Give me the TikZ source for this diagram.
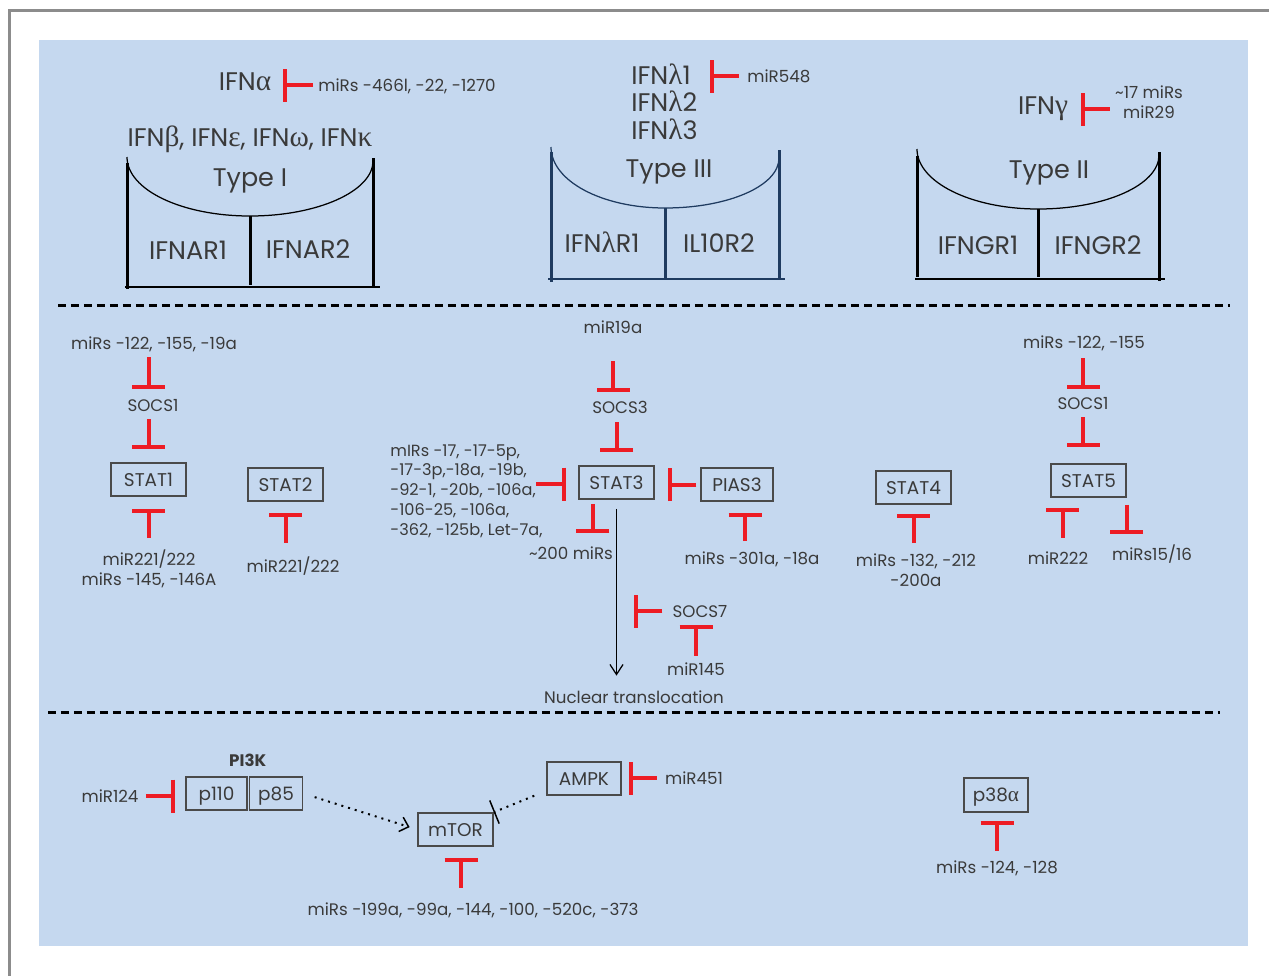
\documentclass[tikz,border=0pt]{standalone}
\usepackage{fontspec}
\setmainfont{Poppins}
\newfontfamily\greekfont{Liberation Serif}[Scale=1.15]
\newcommand{\grk}[1]{{\greekfont #1}}
\usetikzlibrary{positioning, arrows.meta, calc}

\begin{document}
\begin{tikzpicture}[
    x=0.02cm, y=-0.02cm,
    lbl/.style={
        font=\fontsize{9.5}{11.3}\selectfont,
        text=txt_color,
        inner sep=0pt,
        text height=7.5pt,
        text depth=0.5pt
    },
    lines/.style={
        font=\fontsize{9.5}{11.6}\selectfont,
        text=txt_color,
        inner sep=0pt,
        align=center
    },
    biglbl/.style={
        font=\fontsize{14.5}{17}\selectfont,
        text=txt_color,
        inner sep=0pt,
        text height=11.5pt,
        text depth=1pt
    },
    box/.style={
        rectangle,
        draw=box_color,
        line width=0.03cm,
        minimum width=#1,
        minimum height=0.66cm,
        inner sep=0pt,
        text height=7.6pt,
        text depth=0pt,
        font=\fontsize{10.5}{12}\selectfont,
        text=txt_color
    },
    box/.default=1.5cm,
    inhib/.style={
        draw=red_color,
        line width=0.08cm,
        -{Bar[width=0.66cm]}
    },
    rec/.style={
        draw=#1,
        line width=0.06cm
    },
    arcline/.style={
        draw=#1,
        line width=0.025cm
    },
    divider/.style={
        draw=black,
        line width=0.06cm,
        dash pattern=on 0.16cm off 0.1cm
    },
    arrow/.style={
        draw=black,
        line width=0.025cm,
        -{Straight Barb[length=0.2cm, width=0.26cm]}
    },
    dotarrow/.style={
        draw=black,
        line width=0.04cm,
        dash pattern=on 0.04cm off 0.1cm,
        -{Straight Barb[length=0.16cm, width=0.3cm, line width=0.03cm]}
    },
    dotbar/.style={
        draw=black,
        line width=0.04cm,
        dash pattern=on 0.04cm off 0.1cm,
        -{Bar[width=0.5cm, line width=0.03cm]}
    }
]

% Colors
\definecolor{panel_color}{HTML}{C5D8EF}
\definecolor{red_color}{HTML}{ED1C24}
\definecolor{txt_color}{HTML}{3A3A3A}
\definecolor{box_color}{HTML}{4A4A4A}
\definecolor{navy_color}{HTML}{1F3B60}
\definecolor{frame_color}{HTML}{8C8C8C}

% Frame and panel
\useasboundingbox (0,0) rectangle (1269,975);
\clip (0,0) rectangle (1269,975);
\draw[frame_color, line width=0.06cm] (9.5,1000) -- (9.5,10) -- (1300,10);
\fill[panel_color] (39,40) rectangle (1248,946);

% Dividers
\draw[divider] (58,305) -- (1230,305);
\draw[divider] (48,712) -- (1220,712);

% Type I receptor
\draw[rec=black] (127,163) -- (127,289);
\draw[rec=black] (373,158) -- (373,287);
\draw[rec=black, line width=0.04cm] (125,287) -- (380,287);
\draw[rec=black] (250,216) -- (250,285);
\draw[arcline=black] (127,157) .. controls (127,190) and (182,216) .. (250,216)
    .. controls (318,216) and (373,191) .. (373,161);
\node[biglbl] (ifnbeta) at (250,137) {IFN\grk{β}, IFN\grk{ε}, IFN\grk{ω}, IFN\grk{κ}};
\node[biglbl] (type1) at (250,177) {Type I};
\node[biglbl] (ifnar1) at (188,250) {IFNAR1};
\node[biglbl] (ifnar2) at (308,249) {IFNAR2};
\node[biglbl] (ifna) at (245,81) {IFN\grk{α}};
\node[lbl, anchor=west] (mirifna) at (318,85) {miRs -466l, -22, -1270};
\draw[inhib, shorten <=0.1cm, shorten >=0.22cm] (mirifna.west) -- (mirifna.west -| ifna.east);

% Type III receptor
\draw[rec=navy_color] (551,152) -- (551,282);
\draw[rec=navy_color] (779,150) -- (779,280);
\draw[rec=navy_color, line width=0.04cm] (548,279) -- (785,279);
\draw[rec=navy_color] (665,208) -- (665,278);
\draw[arcline=navy_color] (551,147) .. controls (551,181) and (602,208) .. (665,208)
    .. controls (728,208) and (779,186) .. (779,158);
\node[biglbl, anchor=west] (ifnl1) at (631,75) {IFN\grk{λ}1};
\node[biglbl, anchor=west] (ifnl2) at (631,102) {IFN\grk{λ}2};
\node[biglbl, anchor=west] (ifnl3) at (631,130) {IFN\grk{λ}3};
\node[lbl, anchor=west] (mir548) at (747,76) {miR548};
\draw[inhib, shorten <=0.16cm, shorten >=0.38cm] (mir548.west) -- (mir548.west -| ifnl1.east);
\node[biglbl] (type3) at (669,168) {Type III};
\node[biglbl] (ifnlr1) at (602,243) {IFN\grk{λ}R1};
\node[biglbl] (il10r2) at (719,243) {IL10R2};

% Type II receptor
\draw[rec=black] (917,156) -- (917,277);
\draw[rec=black] (1159,152) -- (1159,281);
\draw[rec=black, line width=0.04cm] (915,279) -- (1165,279);
\draw[rec=black] (1038,209) -- (1038,277);
\draw[arcline=black] (917,149) .. controls (917,182) and (971,209) .. (1038,209)
    .. controls (1105,209) and (1159,185) .. (1159,155);
\node[biglbl] (ifng) at (1043,105) {IFN\grk{γ}};
\node[lines, font=\fontsize{9.5}{11.3}\selectfont] (mirifng) at (1149,102) {\textasciitilde17 miRs\\miR29};
\coordinate (ifngin) at ($(mirifng.west)+(0,7)$);
\draw[inhib, shorten <=0.1cm, shorten >=0.26cm] (ifngin) -- (ifngin -| ifng.east);
\node[biglbl] (type2) at (1049,169) {Type II};
\node[biglbl] (ifngr1) at (978,245) {IFNGR1};
\node[biglbl] (ifngr2) at (1098,245) {IFNGR2};

% STAT1 and STAT2
\node[lbl] (mirsocs1a) at (154,343) {miRs -122, -155, -19a};
\node[lbl] (socs1a) at (153,405) {SOCS1};
\node[box] (stat1) at (148.5,479.5) {STAT1};
\node[lines, anchor=north] (mirstat1) at (149,549) {miR221/222\\miRs -145, -146A};
\node[box] (stat2) at (285.5,484.5) {STAT2};
\node[lbl] (mirstat2) at (293,566) {miR221/222};
\draw[inhib, shorten <=0.14cm, shorten >=0.18cm] (mirsocs1a.south -| stat1.north) -- (socs1a.north -| stat1.north);
\draw[inhib, shorten <=0.14cm, shorten >=0.26cm] (socs1a.south -| stat1.north) -- (stat1.north);
\draw[inhib, shorten <=0.22cm, shorten >=0.24cm] (mirstat1.north -| stat1.south) -- (stat1.south);
\draw[inhib, shorten <=0.32cm, shorten >=0.22cm] (mirstat2.north -| stat2.south) -- (stat2.south);

% STAT3
\node[lbl] (mir19a) at (613,327) {miR19a};
\node[lbl] (socs3) at (620,407) {SOCS3};
\node[box] (stat3) at (616.5,482.5) {STAT3};
\node[box=1.44cm] (pias3) at (737,484.5) {PIAS3};
\node[lines, align=left, anchor=north west, font=\fontsize{9.2}{11.3}\selectfont] (mirstat3) at (390,444)
    {mIRs -17, -17-5p,\\-17-3p,-18a, -19b,\\-92-1, -20b, -106a,\\-106-25, -106a,\\-362, -125b, Let-7a,};
\node[lbl] (mir200) at (571,553) {\textasciitilde200 miRs};
\node[lbl] (mirpias3) at (752,558) {miRs -301a, -18a};
\node[lbl] (socs7) at (700,611) {SOCS7};
\node[lbl] (mir145) at (696,669) {miR145};
\node[lbl] (nuclear) at (634,697) {Nuclear translocation};

\draw[inhib, shorten <=0.54cm, shorten >=0.16cm] (mir19a.south) -- (mir19a.south |- socs3.north);
\draw[inhib, shorten <=0.16cm, shorten >=0.26cm] (socs3.south -| stat3.north) -- (stat3.north);
\coordinate (stat3in) at ($(stat3.west)+(-42,1.5)$);
\draw[inhib, shorten >=0.24cm] (stat3in) -- (stat3in -| stat3.west);
\coordinate (stat3out) at ($(stat3.south west)!0.19!(stat3.south east)$);
\draw[inhib, shorten <=0.08cm, shorten >=0.26cm] (stat3out) -- (stat3out |- mir200.north);
\draw[inhib, shorten <=0.08cm, shorten >=0.26cm] (pias3.west) -- (pias3.west -| stat3.east);
\coordinate (pias3in) at ($(pias3.south)+(8,0)$);
\draw[inhib, shorten <=0.19cm, shorten >=0.22cm] (pias3in |- mirpias3.north) -- (pias3in);
\draw[arrow, shorten <=0.18cm, shorten >=0.28cm] (stat3.south) -- (stat3.south |- nuclear.north);
\draw[inhib, shorten <=0.2cm, shorten >=0.35cm] (socs7.west) -- (socs7.west -| stat3.south);
\draw[inhib, shorten <=0.12cm, shorten >=0.14cm] (mir145.north) -- (mir145.north |- socs7.south);

% STAT4
\node[box] (stat4) at (913.5,487.5) {STAT4};
\node[lines, anchor=north] (mirstat4) at (916,553) {miRs -132, -212\\-200a};
\draw[inhib, shorten <=0.2cm, shorten >=0.18cm] (mirstat4.north -| stat4.south) -- (stat4.south);

% STAT5
\node[lbl] (mirsocs1b) at (1084,342) {miRs -122, -155};
\node[lbl] (socs1b) at (1083,403) {SOCS1};
\node[box] (stat5) at (1088.5,480.5) {STAT5};
\node[lbl] (mir222) at (1058,558) {miR222};
\node[lbl] (mir1516) at (1152,554) {miRs15/16};
\draw[inhib, shorten <=0.18cm, shorten >=0.14cm] (mirsocs1b.south -| socs1b.north) -- (socs1b.north);
\draw[inhib, shorten <=0.14cm, shorten >=0.32cm] (socs1b.south) -- (socs1b.south |- stat5.north);
\coordinate (stat5in) at ($(stat5.south west)!0.16!(stat5.south east)$);
\draw[inhib, shorten <=0.26cm, shorten >=0.2cm] (stat5in |- mir222.north) -- (stat5in);
\draw[inhib, shorten <=0.14cm, shorten >=0.26cm] (stat5.south east) -- (stat5.south east |- mir1516.north);

% PI3K / mTOR / AMPK
\node[box=1.22cm] (p110) at (216.5,793.5) {p110};
\node[box=1.06cm, right=0.02cm of p110] (p85) {p85};
\node[lbl, font=\bfseries\fontsize{9.5}{11.3}\selectfont, above=0.18cm of p110.north east] (pi3k) {PI3K};
\node[lbl] (mir124) at (110,796) {miR124};
\draw[inhib, shorten <=0.14cm, shorten >=0.2cm] (mir124.east) -- (mir124.east -| p110.west);

\node[box] (mtor) at (455.5,829.5) {mTOR};
\node[box=1.48cm] (ampk) at (584,778.5) {AMPK};
\node[lbl] (mir451) at (694,778) {miR451};
\node[lbl] (mirmtor) at (473,909) {miRs -199a, -99a, -144, -100, -520c, -373};
\draw[inhib, shorten <=0.16cm, shorten >=0.14cm] (mir451.west) -- (mir451.west -| ampk.east);
\coordinate (mtorin) at ($(mtor.south)+(5.5,0)$);
\draw[inhib, shorten <=0.28cm, shorten >=0.22cm] (mtorin |- mirmtor.north) -- (mtorin);
\draw[dotarrow, shorten <=0.24cm, shorten >=0.16cm] (p85.east) -- (mtor.west);
\coordinate (ampkout) at ($(ampk.south west)+(-12,0)$);
\draw[dotbar] (ampkout) -- (mtor.north east);

% p38
\node[box=1.28cm, minimum height=0.68cm] (p38) at (996,795) {p38\grk{α}};
\node[lbl] (mirp38) at (997,867) {miRs -124, -128};
\draw[inhib, shorten <=0.18cm, shorten >=0.16cm] (mirp38.north) -- (mirp38.north |- p38.south);

\end{tikzpicture}
\end{document}
